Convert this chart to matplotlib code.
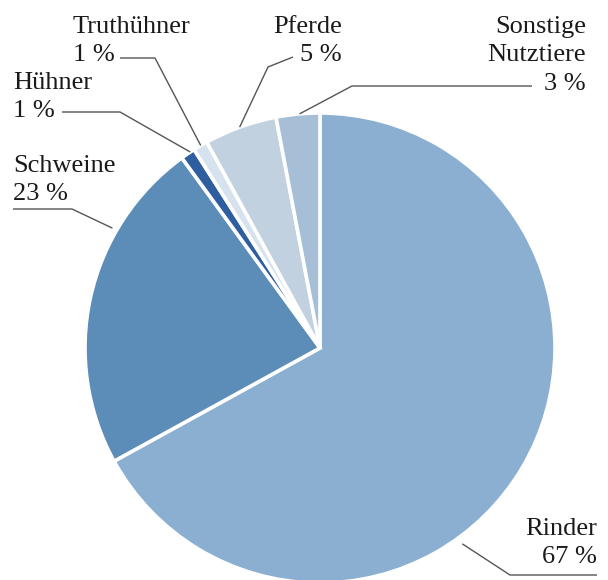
import matplotlib.pyplot as plt
import numpy as np

plt.rcParams['font.family'] = ['Liberation Serif', 'DejaVu Serif']

# Anteile der Nutztierarten in Prozent
tiere = ['Rinder', 'Schweine', 'Hühner', 'Truthühner', 'Pferde', 'Sonstige\nNutztiere']
anteile = [67, 23, 1, 1, 5, 3]
farben = ['#8AAFD0', '#5B8DB8', '#2E5EA0', '#D6E2EE', '#C2D1DF', '#A6BFD6']

W, H = 608, 580
fig = plt.figure(figsize=(W / 100, H / 100), dpi=100)
ax = fig.add_axes([0, 0, 1, 1])

cx, cy, r = 320, H - 348, 235
wedges, _ = ax.pie(anteile, colors=farben, startangle=90, counterclock=False,
                   center=(cx, cy), radius=r, frame=True,
                   wedgeprops=dict(edgecolor='white', linewidth=2.6))
ax.set_xlim(0, W)
ax.set_ylim(0, H)
ax.set_aspect('equal')
ax.axis('off')

# Beschriftungen: Textposition (Pixel von oben), Ausrichtung, Knick der Linie, Winkel am Kreis
text_xy = [(597, 518), (13, 155), (13, 72), (73, 16), (342, 16), (586, 16)]
text_ha = ['right', 'left', 'left', 'left', 'right', 'right']
linie_start = [(597, 575), (13, 209), (62, 112), (120, 58), (293, 57), (532, 86)]
linie_knick = [(510, 575), (72, 209), (120, 112), (155, 58), (268, 67), (352, 86)]
spitze_winkel = [-54, 150, 123.5, 120.5, 110, 95]
spitze_r = [1.03, 1.02, 1.0, 1.0, 1.0, 1.0]

for i, name in enumerate(tiere):
    tx, ty = text_xy[i]
    ax.text(tx, H - ty, f'{name}\n{anteile[i]} %', ha=text_ha[i], va='top',
            fontsize=19, color='#1a1a1a', linespacing=1.38,
            multialignment=text_ha[i])
    a = np.deg2rad(spitze_winkel[i])
    px = cx + spitze_r[i] * r * np.cos(a)
    py = cy + spitze_r[i] * r * np.sin(a)
    xs = [linie_start[i][0], linie_knick[i][0], px]
    ys = [H - linie_start[i][1], H - linie_knick[i][1], py]
    ax.plot(xs, ys, color='#555555', lw=1.0, solid_capstyle='butt')

fig.savefig('out.png', dpi=100, facecolor='white')
